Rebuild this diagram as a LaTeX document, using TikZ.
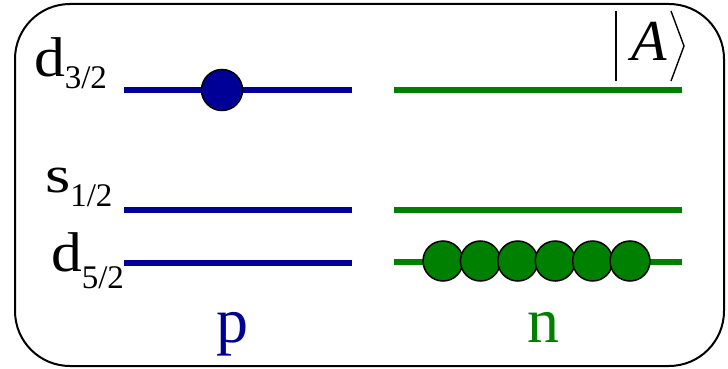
\documentclass[tikz,border=0pt]{standalone}
\usepackage{fontspec}
\setmainfont{Liberation Serif}
\definecolor{pblue}{RGB}{0,0,150}
\definecolor{ngreen}{RGB}{0,128,0}
% #1 letter size, #2 horizontal stretch, #3 letter, #4 subscript, #5 drop of subscript
\newcommand{\lvlabel}[5]{\scalebox{#2}[1]{\fontsize{#1}{#1}\selectfont #3}\raisebox{-#5pt}{\fontsize{33}{33}\selectfont #4}}
\tikzset{
  plevel/.style={draw=pblue,line width=6pt},
  nlevel/.style={draw=ngreen,line width=6pt},
  lbl/.style={anchor=base west,inner sep=0pt,outer sep=0pt},
  pball/.style={circle,draw=black,line width=1.5pt,fill=pblue,minimum size=41pt,inner sep=0pt},
  nball/.style={circle,draw=black,line width=1.5pt,fill=ngreen,minimum size=40pt,inner sep=0pt},
  ketline/.style={draw=black,line width=1.4pt}
}
\begin{document}
\begin{tikzpicture}[x=1pt,y=-1pt]
\useasboundingbox (0,0) rectangle (728,369);
\draw[line width=2pt,rounded corners=55pt] (15,4) rectangle (724,366);
% proton levels
\draw[plevel] (124,90) -- (352,90);
\draw[plevel] (124,210) -- (352,210);
\draw[plevel] (124,263) -- (352,263);
% neutron levels
\draw[nlevel] (394,90) -- (682,90);
\draw[nlevel] (394,210) -- (682,210);
\draw[nlevel] (394,262) -- (682,262);
% labels
\node[lbl] (d32) at (34,77) {\lvlabel{56}{1.1}{d}{3/2}{12}};
\node[lbl] (s12) at (45,192) {\lvlabel{52}{1.25}{s}{1/2}{14}};
\node[lbl] (d52) at (51,271) {\lvlabel{56}{1.1}{d}{5/2}{17}};
% particles
\node[pball] (p1) at (222,90) {};
\foreach \i in {0,...,5} {
  \node[nball] (n\i) at (443+37.4*\i,261) {};
}
% p n labels
\node[anchor=base,inner sep=0pt,text=pblue,font=\fontsize{64}{64}\selectfont] (plab) at (232,342) {p};
\node[anchor=base,inner sep=0pt,text=ngreen,font=\fontsize{64}{64}\selectfont] (nlab) at (543,342) {n};
% ket
\node[anchor=base,inner sep=0pt,font=\fontsize{58}{58}\selectfont\itshape] (A) at (649,61) {A};
\draw[ketline] (616,11) -- (616,81);
\draw[ketline] (671,11) -- (684,46) -- (671,81);
\end{tikzpicture}
\end{document}
